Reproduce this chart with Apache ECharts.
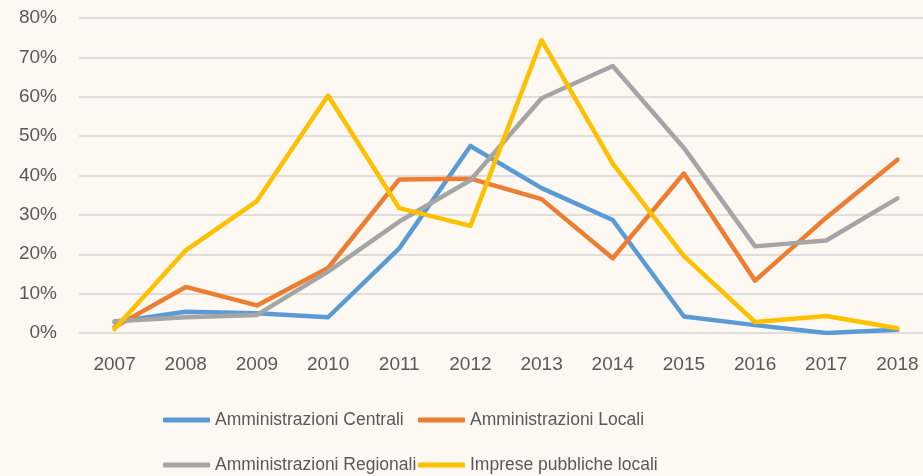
<!DOCTYPE html>
<html><head><meta charset="utf-8">
<script src="https://cdn.jsdelivr.net/npm/echarts@6/dist/echarts.min.js"></script>
<style>html,body{margin:0;padding:0;background:#FDF8F2;overflow:hidden;}#c{width:936px;height:476px;}</style>
</head><body><div id="c"></div>
<script>
const years = ['2007','2008','2009','2010','2011','2012','2013','2014','2015','2016','2017','2018'];
const yTicks = {min: 0, max: 80, interval: 10};
const seriesNames = ['Amministrazioni Centrali','Amministrazioni Locali','Amministrazioni Regionali','Imprese pubbliche locali'];
const centrali   = [2.8, 5.4, 5.0, 4.0, 21.5, 47.5, 36.8, 28.7, 4.2, 2.0, 0.0, 0.8];
const locali     = [1.5, 11.7, 7.0, 16.5, 39.0, 39.2, 34.0, 19.0, 40.5, 13.3, 29.3, 44.0];
const regionali  = [3.0, 4.0, 4.6, 15.6, 28.3, 38.8, 59.6, 67.8, 47.0, 22.0, 23.5, 34.2];
const imprese    = [1.0, 21.0, 33.5, 60.3, 31.7, 27.2, 74.4, 43.0, 19.5, 2.8, 4.3, 1.2];
const colors = ['#5B9BD5','#ED7D31','#A5A5A5','#FFC000'];
const values = [centrali, locali, regionali, imprese];

const font = "'Liberation Sans', Arial, sans-serif";
const chart = echarts.init(document.getElementById('c'), null, {renderer:'canvas'});
const legendPos = [[163,409],[418,409],[163,454],[418,454]];
chart.setOption({
  backgroundColor: '#FDF8F2',
  animation: false,
  grid: {left: 79, right: 3, top: 18, bottom: 143, containLabel: false},
  legend: seriesNames.map((n,i)=>({
    data:[n], left: legendPos[i][0], top: legendPos[i][1],
    icon: 'roundRect', itemWidth: 47, itemHeight: 5, padding: 0,
    textStyle: {color:'#595959', fontSize: 17.5, fontFamily: font, lineHeight: 22}
  })),
  xAxis: {
    type: 'category', data: years, boundaryGap: true,
    axisLine: {show:false}, axisTick: {show:false},
    axisLabel: {color:'#595959', fontSize: 19, fontFamily: font, margin: 22}
  },
  yAxis: {
    type: 'value', min: yTicks.min, max: yTicks.max, interval: yTicks.interval,
    axisLine: {show:false}, axisTick: {show:false},
    axisLabel: {color:'#595959', fontSize: 19, fontFamily: font, margin: 22, formatter: '{value}%'},
    splitLine: {lineStyle: {color:'#D6D6D6', width: 1.5}}
  },
  series: seriesNames.map((n,i)=>({
    name: n, type: 'line', data: values[i], showSymbol: false, symbol: 'none',
    color: colors[i],
    lineStyle: {color: colors[i], width: 4.5, cap: 'round', join: 'round'},
    z: 2 + i
  }))
});
</script></body></html>
